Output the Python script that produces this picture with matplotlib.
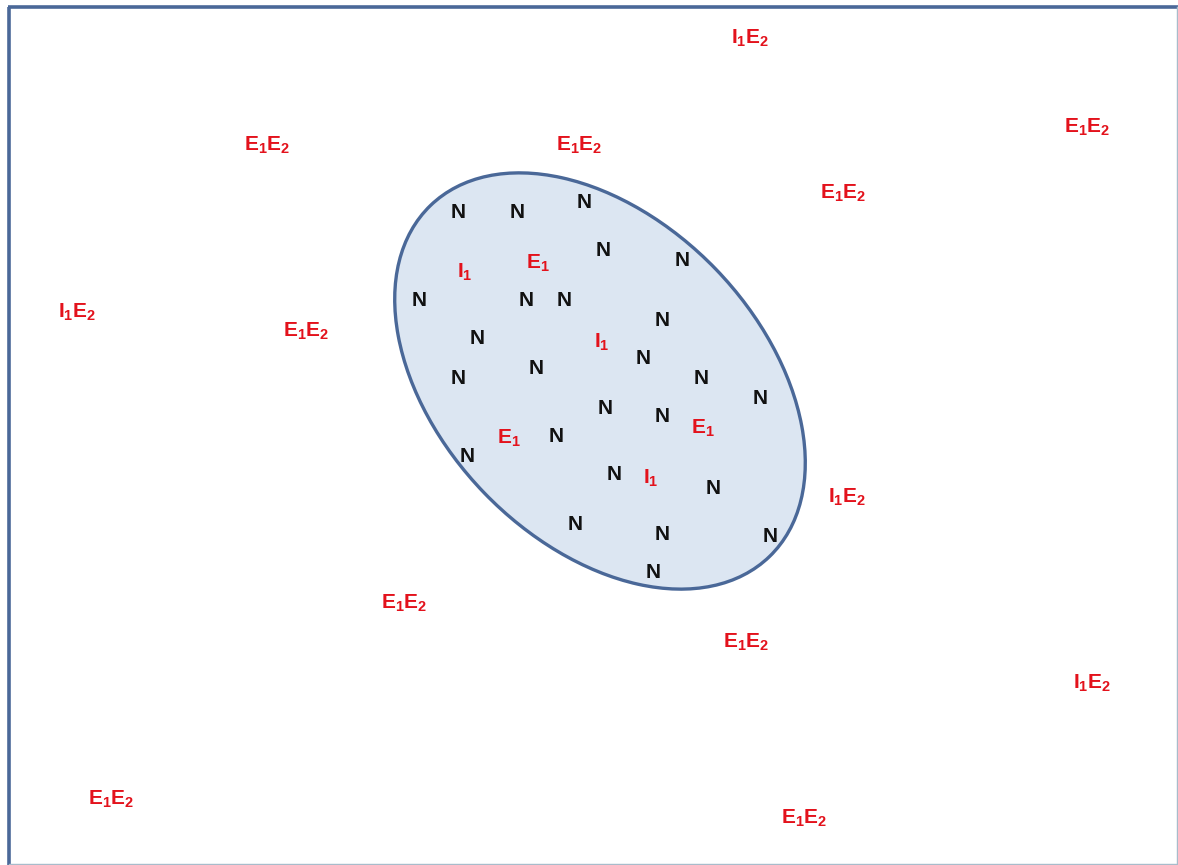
import matplotlib
matplotlib.use("Agg")
import matplotlib.pyplot as plt
from matplotlib.patches import Ellipse

plt.rcParams['mathtext.fontset'] = 'custom'
plt.rcParams['mathtext.rm'] = 'Liberation Sans:bold'
plt.rcParams['mathtext.it'] = 'Liberation Sans:bold'
plt.rcParams['mathtext.bf'] = 'Liberation Sans:bold'

# Outside labels (pixel-space positions)
out_labels = ["I1E2", "E1E2", "E1E2", "E1E2", "E1E2", "I1E2", "E1E2",
              "I1E2", "E1E2", "E1E2", "I1E2", "E1E2", "E1E2"]
out_x = [750, 1087, 267, 579, 843, 77, 306, 847, 404, 746, 1092, 111, 804]
out_y = [38, 127, 145, 145, 193, 312, 331, 497, 603, 642, 683, 799, 818]

# Inside labels
in_labels = ["N", "N", "N", "N", "N", "I1", "E1", "N", "N", "N", "N", "N", "I1",
             "N", "N", "N", "N", "N", "N", "N", "E1", "E1", "N", "N", "N", "I1",
             "N", "N", "N", "N", "N"]
in_x = [458, 517, 584, 603, 682, 465, 538, 419, 526, 564, 662, 477, 602,
        643, 458, 536, 701, 760, 605, 662, 703, 509, 556, 467, 614, 651,
        713, 575, 662, 770, 653]
in_y = [213, 212, 203, 251, 261, 272, 263, 300, 300, 300, 320, 339, 342,
        359, 378, 368, 378, 398, 408, 417, 428, 438, 437, 456, 475, 478,
        488, 524, 534, 536, 573]

# Ellipse (center, axes, angle)
ell_center = (600, 381)
ell_width = 488
ell_height = 322
ell_angle = 46

RED = "#e3121c"
BLUE = "#4a6898"
FILL = "#dce6f2"

def fmt(lbl):
    if lbl == "N":
        return "N"
    s = ""
    for ch in lbl:
        if ch.isdigit():
            s += "_{" + ch + "}"
        else:
            s += ch
    return r"$\mathregular{" + s + "}$"

fig = plt.figure(figsize=(11.78, 8.65), dpi=100)
ax = fig.add_axes([0, 0, 1, 1])
ax.set_xlim(0, 1178)
ax.set_ylim(865, 0)
ax.axis("off")

# frame
ax.plot([9, 9], [7, 866], color=BLUE, lw=2.6, solid_capstyle="butt")
ax.plot([8, 1180], [7, 7], color=BLUE, lw=2.6, solid_capstyle="butt")
ax.plot([1177, 1177], [7, 866], color="#a8bccb", lw=1.0)
ax.plot([9, 1180], [863.5, 863.5], color="#a8bccb", lw=1.0)

e = Ellipse(ell_center, ell_width, ell_height, angle=ell_angle,
            facecolor=FILL, edgecolor=BLUE, lw=2.4)
ax.add_patch(e)

for l, x, y in zip(out_labels, out_x, out_y):
    ax.text(x, y, fmt(l), color=RED, fontsize=15, ha="center", va="center",
            family="Liberation Sans", fontweight="bold")

for l, x, y in zip(in_labels, in_x, in_y):
    if l == "N":
        ax.text(x, y, l, color="#111111", fontsize=15, ha="center", va="center",
                family="Liberation Sans", fontweight="bold")
    else:
        ax.text(x, y, fmt(l), color=RED, fontsize=15, ha="center", va="center",
                family="Liberation Sans", fontweight="bold")

fig.savefig("out.png", dpi=100)
